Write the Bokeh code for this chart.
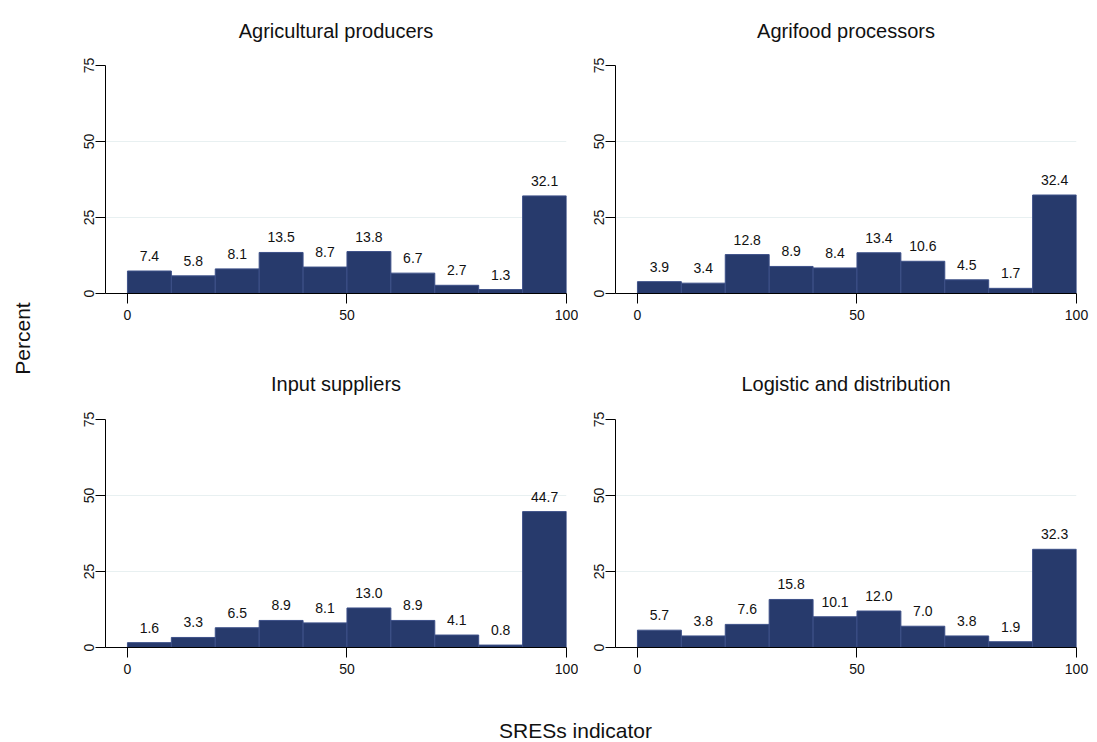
from bokeh.plotting import figure
from bokeh.models import ColumnDataSource, FixedTicker, Label
from bokeh.layouts import row, column
from bokeh.embed import file_html
from bokeh.resources import INLINE
from bokeh.core.properties import value

# ---------------- data ----------------
bin_edges = [0, 10, 20, 30, 40, 50, 60, 70, 80, 90, 100]
panel_titles = ["Agricultural producers", "Agrifood processors",
                "Input suppliers", "Logistic and distribution"]
agricultural_producers = [7.4, 5.8, 8.1, 13.5, 8.7, 13.8, 6.7, 2.7, 1.3, 32.1]
agrifood_processors = [3.9, 3.4, 12.8, 8.9, 8.4, 13.4, 10.6, 4.5, 1.7, 32.4]
input_suppliers = [1.6, 3.3, 6.5, 8.9, 8.1, 13.0, 8.9, 4.1, 0.8, 44.7]
logistic_distribution = [5.7, 3.8, 7.6, 15.8, 10.1, 12.0, 7.0, 3.8, 1.9, 32.3]
x_ticks = [0, 50, 100]
y_ticks = [0, 25, 50, 75]
y_grid = [25, 50]
y_label = "Percent"
x_label = "SRESs indicator"

FONT = "Liberation Sans"
BAR = "#273a6c"
EDGE = "#3d5088"
BORDER_L = 37
FRAME_W = 461
FRAME_H = 228


def text_strip(width, height, text, x, y, size, angle=0):
    f = figure(width=width, height=height, x_range=(0, 1), y_range=(0, 1),
               x_axis_type=None, y_axis_type=None, min_border=0,
               output_backend="svg", toolbar_location=None)
    f.outline_line_color = None
    f.add_layout(Label(x=x, y=y, x_units="screen", y_units="screen",
                       text=text, angle=angle, angle_units="deg",
                       text_align="center", text_baseline="middle",
                       text_font=FONT, text_font_size=size,
                       text_color="#111111"))
    return f


def panel(vals, top_border, bottom_border, right_border):
    p = figure(width=BORDER_L + FRAME_W + right_border,
               height=top_border + FRAME_H + bottom_border,
               x_range=(-5, 100), y_range=(0, 75),
               output_backend="svg", toolbar_location=None,
               min_border_left=BORDER_L, min_border_right=right_border,
               min_border_top=top_border, min_border_bottom=bottom_border)
    p.outline_line_color = None
    p.background_fill_color = "white"
    p.border_fill_color = "white"

    p.xgrid.visible = False
    p.ygrid.ticker = FixedTicker(ticks=y_grid)
    p.ygrid.grid_line_color = "#e8f0f1"
    p.ygrid.grid_line_width = 1

    p.xaxis.ticker = FixedTicker(ticks=x_ticks)
    p.yaxis.ticker = FixedTicker(ticks=y_ticks)
    for ax in (p.xaxis, p.yaxis):
        ax.axis_line_color = "black"
        ax.axis_line_width = 1
        ax.major_tick_line_color = "black"
        ax.major_tick_out = 10
        ax.major_tick_in = 0
        ax.minor_tick_line_color = None
        ax.major_label_text_font = FONT
        ax.major_label_text_font_size = "14px"
        ax.major_label_text_color = "#111111"
    p.xaxis.major_label_standoff = 6
    p.yaxis.major_label_standoff = 2
    p.yaxis.major_label_orientation = "vertical"

    src = ColumnDataSource(dict(
        left=bin_edges[:-1], right=bin_edges[1:], top=vals,
        mid=[(a + b) / 2 for a, b in zip(bin_edges[:-1], bin_edges[1:])],
        label=[f"{v:.1f}" for v in vals]))
    p.quad(left="left", right="right", top="top", bottom=0, source=src,
           fill_color=BAR, line_color=EDGE, line_width=1)
    p.text(x="mid", y="top", text="label", source=src,
           text_align="center", text_baseline="alphabetic", y_offset=-15,
           text_font=value(FONT), text_font_size="14px", text_color="#111111")
    return p


title_cx = BORDER_L + FRAME_W / 2

t_tl = text_strip(510, 50, panel_titles[0], title_cx, 20, "20px")
t_tr = text_strip(518, 50, panel_titles[1], title_cx, 20, "20px")
tl = panel(agricultural_producers, 15, 69, 12)
tr = panel(agrifood_processors, 15, 69, 20)

t_bl = text_strip(510, 40, panel_titles[2], title_cx, 19, "20px")
t_br = text_strip(518, 40, panel_titles[3], title_cx, 19, "20px")
bl = panel(input_suppliers, 17, 40, 12)
br = panel(logistic_distribution, 17, 40, 20)

left = text_strip(68, 742, y_label, 22, 404, "21px", angle=90)
bottom = text_strip(1028, 55, x_label, 507, 12, "21px")

layout = row(left, column(row(t_tl, t_tr), row(tl, tr),
                          row(t_bl, t_br), row(bl, br), bottom))

open("out.html", "w").write(file_html(layout, INLINE))
